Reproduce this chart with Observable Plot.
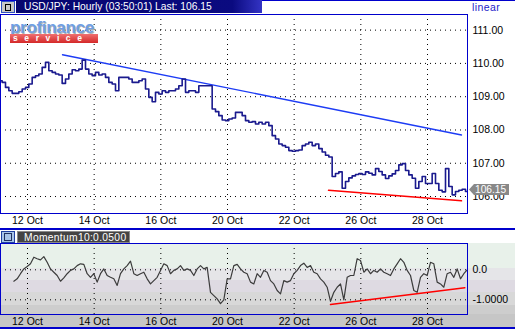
<!DOCTYPE html>
<html><head><meta charset="utf-8">
<script src="https://cdn.jsdelivr.net/npm/d3@7"></script>
<script src="https://cdn.jsdelivr.net/npm/@observablehq/plot@0.6"></script>
<style>
body{margin:0;background:#fff;font-family:"Liberation Sans",Arial,sans-serif;}
#wrap{position:relative;width:515px;height:329px;overflow:hidden;background:#fff;}
.abs{position:absolute;}
#topline{left:0;top:0;width:515px;height:1px;background:#0000cc;}
#icon0{left:1px;top:1px;width:12px;height:10px;background:#c8c8c8;border:1px solid #3050c0;}
#icon0 i{position:absolute;left:3px;top:2px;width:4px;height:5px;border:1px solid #000;}
#titlebar{left:16px;top:0px;width:246px;height:13px;background:linear-gradient(90deg,#06066e,#0a0a80 88%,#3434c4);color:#fff;font-size:10.3px;line-height:13px;padding-left:8px;box-sizing:border-box;white-space:nowrap;}
#linear{left:472px;top:1px;color:#2323c8;font-size:10.5px;line-height:12px;letter-spacing:0.4px;}
#logo1{left:10px;top:21px;font-size:17px;font-weight:bold;color:#6f9fe4;letter-spacing:-0.3px;text-shadow:1px 1px 0 #b0b0b0;line-height:13px;height:13px;}
#logo2{left:10px;top:34px;width:88px;height:9px;background:linear-gradient(#f07070,#d42828);color:#fff;font-size:8.5px;font-weight:bold;line-height:9px;letter-spacing:6.6px;padding-left:3px;box-sizing:border-box;white-space:nowrap;}
#sep{left:0;top:228px;width:515px;height:2px;background:#0000cc;}
#momPanel{left:0;top:229px;width:515px;height:100px;background:linear-gradient(to bottom,#fff 0 14px,#e8f1ea 14px 39px,#e5e5e8 39px 51px,#dedae2 51px 63px,#d8d8d8 63px 76px,#cdcdcd 76px 85px,#c6c6c6 85px 98px,#0000cc 98px 100px);}
#icon1{left:1px;top:231px;width:12px;height:10px;background:#a8c4e8;border:1px solid #2040a0;}
#icon1 i{position:absolute;left:2px;top:1px;width:6px;height:6px;border:1px solid #203060;}
#momLabel{left:17px;top:231px;width:113px;height:12px;background:#444;border:1px solid #8a8a8a;box-sizing:border-box;color:#fff;font-size:10.3px;line-height:11px;padding-left:6px;white-space:nowrap;letter-spacing:0.3px;}
#last{color:#fff;font-size:10.2px;line-height:11px;height:11px;width:40px;background:#888;clip-path:polygon(0 50%,5px 0,100% 0,100% 100%,5px 100%);padding-left:6px;box-sizing:border-box;white-space:nowrap;}
svg{position:absolute;left:0;}
</style></head><body><div id="wrap">
<div id="momPanel" class="abs"></div>
<div id="plots"></div>
<div id="topline" class="abs"></div>
<div id="icon0" class="abs"><i></i></div>
<div id="titlebar" class="abs">USD/JPY: Hourly (03:50:01) Last: 106.15</div>
<div id="linear" class="abs">linear</div>
<div id="logo1" class="abs">profinance</div>
<div id="logo2" class="abs">service</div>
<div id="sep" class="abs"></div>
<div id="icon1" class="abs"><i></i></div>
<div id="momLabel" class="abs">Momentum10:0.0500</div>
</div>
<script>
// trading-day index: 9 Oct = 0, 12 Oct = 1, ... (weekends removed)
const tickDays = [1, 3, 5, 7, 9, 11, 13];
const tickLabels = ["12 Oct", "14 Oct", "16 Oct", "20 Oct", "22 Oct", "26 Oct", "28 Oct"];
const priceTicks = [106, 107, 108, 109, 110, 111];
const momTicks = [0, -1];
const momTickLabels = ["0.0", "-1.0000"];
const lastPrice = 106.15;

const priceStart = 0.19;   // first sample (trading days)
const stepDays = 0.1;      // sampling interval (trading days)
const prices = [
 109.48,109.43,109.28,109.18,109.10,109.10,109.15,109.23,109.28,109.38,
 109.58,109.63,109.68,109.88,110.03,109.78,109.73,109.68,109.65,109.40,
 109.53,109.68,109.81,109.78,109.83,110.10,109.83,109.68,109.63,109.73,
 109.65,109.68,109.58,109.43,109.38,109.18,109.58,109.58,109.58,109.53,
 109.43,109.43,109.48,109.53,109.23,108.98,108.85,109.13,
 109.08,109.18,109.13,109.18,109.18,109.23,109.33,109.53,109.13,109.18,
 109.18,109.13,109.33,109.33,109.33,109.33,
 108.63,108.55,108.43,108.30,108.28,108.33,108.36,108.53,108.53,108.43,
 108.28,108.23,108.25,108.18,108.23,108.18,108.23,108.13,
 107.83,107.73,107.58,107.53,107.48,107.38,107.36,107.38,107.40,107.53,
 107.58,107.63,107.53,107.58,
 107.44,107.34,107.24,107.19,
 106.60,106.69,106.74,106.25,106.45,106.56,106.62,106.66,106.69,106.66,
 106.74,106.70,106.65,106.84,106.75,106.65,106.54,106.62,106.68,106.78,
 106.95,106.99,106.78,106.65,106.55,106.25,106.45,106.60,106.39,106.39,
 106.69,106.39,106.19,106.14,106.84,106.30,106.05,106.15,106.19,106.22,
 106.15
];

const momOffset = 4; // momentum starts 4 samples after the first price
const momentum = [
 -0.38,-0.30,-0.13,0.03,0.11,0.20,0.42,0.37,0.33,0.44,
 0.25,0.03,-0.08,-0.19,-0.38,-0.27,-0.13,-0.02,0.03,0.14,
 0.20,0.18,-0.13,-0.25,-0.13,-0.41,-0.13,0.03,-0.19,-0.25,
 -0.30,-0.52,-0.13,0.03,0.14,0.29,-0.13,-0.19,-0.13,-0.08,
 -0.30,-0.47,-0.36,-0.25,-0.02,0.20,0.14,-0.13,-0.02,0.03,
 0.14,-0.02,0.03,-0.02,-0.19,0.03,0.14,0.03,0.08,-0.75,
 -0.86,-0.97,-1.13,-1.00,-0.30,-0.30,0.14,
 0.18,0.03,-0.08,-0.13,-0.41,-0.47,-0.13,-0.25,-0.02,-0.08,
 -0.36,-0.47,-0.69,-0.80,-0.36,-0.41,-0.36,-0.13,-0.02,0.14,
 0.22,0.08,0.14,-0.08,-0.13,-0.30,-0.41,-0.58,-1.05,-0.75,
 -0.58,-0.47,-1.00,-0.25,-0.19,-0.19,0.37,0.31,-0.08,0.03,
 -0.13,-0.02,-0.08,0.03,-0.08,-0.13,-0.19,0.03,0.20,0.37,
 0.25,-0.02,-0.19,-0.69,-0.75,-0.25,-0.13,-0.19,0.25,0.20,
 -0.41,-0.47,-0.58,-0.13,-0.08,-0.25,0.03,-0.30,-0.13,0.00
];

// drawn trend lines
const resistanceDays = [2.05, 14.02];
const resistanceVals = [110.26, 107.85];
const supportDays = [10.03, 14.02];
const supportVals = [106.19, 105.87];
const momSupportDays = [10.09, 14.12];
const momSupportVals = [-1.16, -0.60];

const xDomain = [0.19, 14.2];
const priceDomain = [105.49, 111.47];
const momDomain = [-1.49, 0.877];

const FONT = "'Liberation Sans', Arial, sans-serif";
const priceData = prices.map((v, i) => ({d: priceStart + i * stepDays, v}));
const momData = momentum.map((v, i) => ({d: priceStart + (i + momOffset) * stepDays, v}));
const pairs = (ds, vs) => ds.map((d, i) => ({d, v: vs[i]}));
const tickMap = new Map(tickDays.map((d, i) => [d, tickLabels[i]]));
const momMap = new Map(momTicks.map((d, i) => [d, momTickLabels[i]]));

const grid = {stroke: "#000", strokeOpacity: 1, strokeWidth: 1, strokeDasharray: "1,4"};

const main = Plot.plot({
  width: 515, height: 228,
  marginTop: 14, marginBottom: 15, marginLeft: 0, marginRight: 48,
  style: {fontFamily: FONT, fontSize: "10.5px", color: "#000", background: "transparent", overflow: "visible"},
  x: {domain: xDomain},
  y: {domain: priceDomain},
  marks: [
    Plot.gridX(tickDays, grid),
    Plot.gridY(priceTicks, grid),
    Plot.line(pairs(resistanceDays, resistanceVals), {x: "d", y: "v", stroke: "#1d3cf5", strokeWidth: 1.4}),
    Plot.line(pairs(supportDays, supportVals), {x: "d", y: "v", stroke: "#ff0000", strokeWidth: 1.5}),
    Plot.line(priceData, {x: "d", y: "v", stroke: "#1a1a8e", strokeWidth: 1.6, curve: "step"}),
    Plot.axisX(tickDays, {tickSize: 0, tickPadding: 3.5, tickFormat: d => tickMap.get(d), label: null}),
    Plot.axisY(priceTicks, {anchor: "right", tickSize: 0, tickPadding: 5, tickFormat: d3.format(".2f"), label: null}),
    Plot.frame({stroke: "#0000cc", strokeWidth: 1})
  ]
});
main.style.top = "0px";

const mom = Plot.plot({
  width: 515, height: 100,
  marginTop: 14, marginBottom: 15, marginLeft: 0, marginRight: 48,
  style: {fontFamily: FONT, fontSize: "10.5px", color: "#000", background: "transparent", overflow: "visible"},
  x: {domain: xDomain},
  y: {domain: momDomain},
  marks: [
    Plot.gridX(tickDays, grid),
    Plot.gridY(momTicks, grid),
    Plot.line(momData, {x: "d", y: "v", stroke: "#3c3c3c", strokeWidth: 1.2}),
    Plot.line(pairs(momSupportDays, momSupportVals), {x: "d", y: "v", stroke: "#ff0000", strokeWidth: 1.5}),
    Plot.axisX(tickDays, {tickSize: 0, tickPadding: 3, tickFormat: d => tickMap.get(d), label: null}),
    Plot.axisY(momTicks, {anchor: "right", tickSize: 0, tickPadding: 5, tickFormat: d => momMap.get(d), label: null}),
    Plot.frame({stroke: "#0000cc", strokeWidth: 1})
  ]
});
mom.style.top = "229px";

const plots = document.getElementById("plots");
plots.append(main, mom);

// last price badge positioned via the y scale
const ly = main.scale("y").apply(lastPrice);
const badge = document.createElement("div");
badge.id = "last";
badge.className = "abs";
badge.textContent = lastPrice.toFixed(2);
badge.style.left = "469px";
badge.style.top = (ly - 7) + "px";
document.getElementById("wrap").append(badge);
</script>
</body></html>
